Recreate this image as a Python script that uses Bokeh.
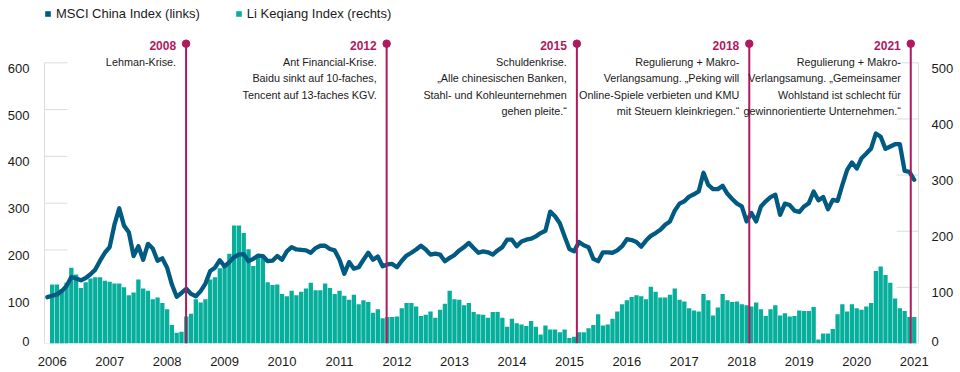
from bokeh.plotting import figure
from bokeh.models import (Range1d, LinearAxis, FixedTicker, ColumnDataSource,
                          Legend, LegendItem)
from bokeh.core.properties import value
from bokeh.embed import file_html
from bokeh.resources import INLINE

# ---------------- data ----------------
# Li Keqiang Index, monthly Jan 2006 .. Jan 2021 (right axis)
li_keqiang = [
    105, 105, 97, 108, 135, 123, 99, 109, 116, 118, 118, 112,
    110, 107, 107, 100, 86, 91, 114, 98, 94, 79, 82, 72,
    61, 33, 19, 21, 48, 53, 79, 73, 79, 114, 118, 134,
    138, 160, 210, 210, 197, 168, 138, 154, 153, 109, 104, 105,
    88, 84, 94, 86, 92, 98, 108, 95, 95, 107, 99, 88,
    94, 85, 78, 87, 70, 77, 74, 55, 61, 45, 47, 47,
    48, 63, 72, 72, 66, 49, 51, 57, 46, 60, 71, 94,
    79, 78, 68, 72, 56, 52, 51, 46, 56, 56, 46, 30,
    44, 36, 34, 31, 40, 30, 16, 32, 25, 25, 20, 25,
    10, 12, 20, 20, 27, 33, 52, 32, 34, 44, 57, 70,
    77, 83, 86, 84, 79, 101, 92, 82, 82, 87, 98, 78,
    75, 63, 59, 57, 88, 77, 50, 64, 88, 77, 74, 75,
    70, 68, 66, 73, 61, 49, 61, 68, 50, 54, 48, 49,
    59, 58, 58, 65, 7, 18, 18, 26, 52, 70, 57, 70,
    63, 60, 66, 72, 129, 137, 122, 108, 80, 63, 58, 47,
    47,
]
# MSCI China Index, monthly Dec 2005 .. Jan 2021 (left axis)
msci_china = [
    99,
    102, 105, 112, 123, 142, 139, 135, 140, 148, 158, 177, 194,
    206, 254, 289, 252, 238, 187, 208, 179, 213, 203, 177, 182,
    162, 126, 100, 108, 117, 106, 101, 112, 128, 155, 162, 178,
    165, 174, 185, 190, 191, 176, 181, 188, 187, 176, 177, 187,
    179, 197, 206, 201, 200, 199, 194, 204, 209, 209, 202, 199,
    179, 149, 174, 160, 163, 179, 194, 179, 186, 165, 169, 170,
    163, 177, 188, 194, 201, 209, 201, 190, 192, 190, 176, 183,
    189, 199, 206, 215, 204, 194, 197, 195, 190, 199, 206, 222,
    222, 208, 218, 222, 224, 229, 236, 241, 282, 272, 257, 229,
    202, 197, 217, 210, 206, 181, 176, 195, 195, 194, 199, 208,
    223, 221, 217, 207, 220, 230, 236, 243, 254, 261, 284, 299,
    304, 314, 319, 325, 365, 339, 330, 330, 337, 320, 309, 299,
    293, 261, 279, 261, 293, 304, 313, 318, 275, 299, 296, 284,
    281, 293, 300, 325, 306, 313, 287, 307, 305, 339, 371, 387,
    374, 396, 406, 417, 449, 442, 416, 421, 426, 426, 369, 367,
    350,
]
year_ticks = list(range(2006, 2022))
year_labels = [str(y) for y in year_ticks]
left_ticks = [0, 100, 200, 300, 400, 500, 600]
right_ticks = [0, 100, 200, 300, 400, 500]

event_labels = ["2008", "2012", "2015", "2018", "2021"]
event_dates = [2008.33, 2011.82, 2015.13, 2018.13, 2020.94]
event_texts = [
    ["Lehman-Krise."],
    ["Ant Financial-Krise.", "Baidu sinkt auf 10-faches,", "Tencent auf 13-faches KGV."],
    ["Schuldenkrise.", "\u201eAlle chinesischen Banken,", "Stahl- und Kohleunternehmen",
     "gehen pleite.\u201c"],
    ["Regulierung + Makro-", "Verlangsamung. \u201ePeking will",
     "Online-Spiele verbieten und KMU", "mit Steuern kleinkriegen.\u201c"],
    ["Regulierung + Makro-", "Verlangsamung. \u201eGemeinsamer",
     "Wohlstand ist schlecht f\u00fcr", "gewinnorientierte Unternehmen.\u201c"],
]
legend_labels = ["MSCI China Index (links)", "Li Keqiang Index (rechts)"]

# ---------------- styling ----------------
BLUE = "#005a82"
TEAL = "#06af9b"
MAG = "#b1195f"
GREY = "#dcdcdc"
TXT = "#1a1a1a"
FONT = "Liberation Sans"

W, H = 956, 368
FRAME_H = 344                      # frame from figure top down to the x axis
PX_LEFT = 281.5 / 600.0            # pixels per left-axis unit
Y_END_L = FRAME_H / PX_LEFT
Y_END_R = Y_END_L * 5.0 / 6.0
X0, X1 = 2005.8663, 2021.0747
PX_YEAR = 57.6
DOT_Y = 300.7 / PX_LEFT            # event dot height (left units)

p = figure(width=W, height=H, output_backend="svg", toolbar_location=None,
           x_range=Range1d(X0, X1), y_range=Range1d(0, Y_END_L),
           x_axis_location=None, y_axis_location=None,
           min_border_left=44, min_border_right=36,
           min_border_top=0, min_border_bottom=H - FRAME_H)
p.extra_y_ranges = {"right": Range1d(0, Y_END_R)}
p.outline_line_color = None
p.grid.grid_line_color = None
p.background_fill_color = "white"

# short grey tick lines (inside the frame)
p.segment(x0=[X0] * len(left_ticks), x1=[X0 + 23 / PX_YEAR] * len(left_ticks),
          y0=left_ticks, y1=left_ticks, line_color=GREY, line_width=1)
p.segment(x0=[X1 - 22 / PX_YEAR] * len(right_ticks), x1=[X1] * len(right_ticks),
          y0=right_ticks, y1=right_ticks, line_color=GREY, line_width=1,
          y_range_name="right")

# bars
bar_x = [2006 + k / 12 for k in range(len(li_keqiang))]
bars = p.vbar(x=bar_x, top=li_keqiang, bottom=0, width=0.9 / 12,
              fill_color=TEAL, line_color=None, y_range_name="right")

# line
line_x = [2006 + (k - 1) / 12 for k in range(len(msci_china))]
p.line(line_x, msci_china, line_color=BLUE, line_width=4.3,
       line_join="round", line_cap="round")

# events
p.segment(x0=event_dates, x1=event_dates, y0=[0] * 5, y1=[DOT_Y] * 5,
          line_color=MAG, line_width=2)
p.scatter(event_dates, [DOT_Y] * 5, size=7.5, fill_color=MAG, line_color=MAG)
p.text(x=event_dates, y=[DOT_Y] * 5, text=event_labels, x_offset=-10, y_offset=1.4,
       text_align="right", text_baseline="middle", text_color=MAG,
       text_font=value(FONT), text_font_style="bold", text_font_size="12px")

tx, ty, tt, toff = [], [], [], []
for d, lines in zip(event_dates, event_texts):
    for j, s in enumerate(lines):
        tx.append(d)
        ty.append(DOT_Y)
        tt.append(s)
        toff.append(18.4 + 16.3 * j)
src = ColumnDataSource(dict(x=tx, y=ty, text=tt, yo=toff))
p.text(x="x", y="y", text="text", y_offset="yo", x_offset=-10, source=src,
       text_align="right", text_baseline="middle", text_color=TXT,
       text_font=value(FONT), text_font_size="10.8px")

# axes
lax = LinearAxis(ticker=FixedTicker(ticks=[5] + [t - 12 for t in left_ticks[1:]]),
                 major_label_overrides={**{5: "0"},
                                        **{t - 12: str(t) for t in left_ticks[1:]}},
                 bounds=(0, 600), axis_line_color=GREY, major_tick_line_color=None,
                 minor_tick_line_color=None, major_label_standoff=9,
                 major_label_text_font=FONT, major_label_text_font_size="13px",
                 major_label_text_color=TXT)
p.add_layout(lax, "left")
rax = LinearAxis(y_range_name="right",
                 ticker=FixedTicker(ticks=[4] + [t - 10 for t in right_ticks[1:]]),
                 major_label_overrides={**{4: "0"},
                                        **{t - 10: str(t) for t in right_ticks[1:]}},
                 bounds=(0, 500), axis_line_color=GREY, major_tick_line_color=None,
                 minor_tick_line_color=None, major_label_standoff=7,
                 major_label_text_font=FONT, major_label_text_font_size="13px",
                 major_label_text_color=TXT)
p.add_layout(rax, "right")
xax = LinearAxis(ticker=FixedTicker(ticks=year_ticks),
                 major_label_overrides=dict(zip(year_ticks, year_labels)),
                 axis_line_color=None, major_tick_line_color=None,
                 minor_tick_line_color=None, major_label_standoff=7,
                 major_label_text_font=FONT, major_label_text_font_size="13px",
                 major_label_text_color=TXT)
p.add_layout(xax, "below")

# legend (proxy square for the line series: a zero-height bar)
proxy = p.vbar(x=bar_x[:1], top=[0], bottom=0, width=0.01,
               fill_color=BLUE, line_color=None)
legend = Legend(items=[LegendItem(label=legend_labels[0], renderers=[proxy]),
                       LegendItem(label=legend_labels[1], renderers=[bars])],
                location=(0, FRAME_H - 22), orientation="horizontal",
                glyph_width=7, glyph_height=7, label_standoff=5, spacing=35,
                padding=0, margin=0, border_line_color=None,
                background_fill_alpha=0, label_height=14,
                label_text_font=FONT, label_text_font_size="13px",
                label_text_color=TXT)
p.add_layout(legend)

open("out.html", "w").write(file_html(p, INLINE))
